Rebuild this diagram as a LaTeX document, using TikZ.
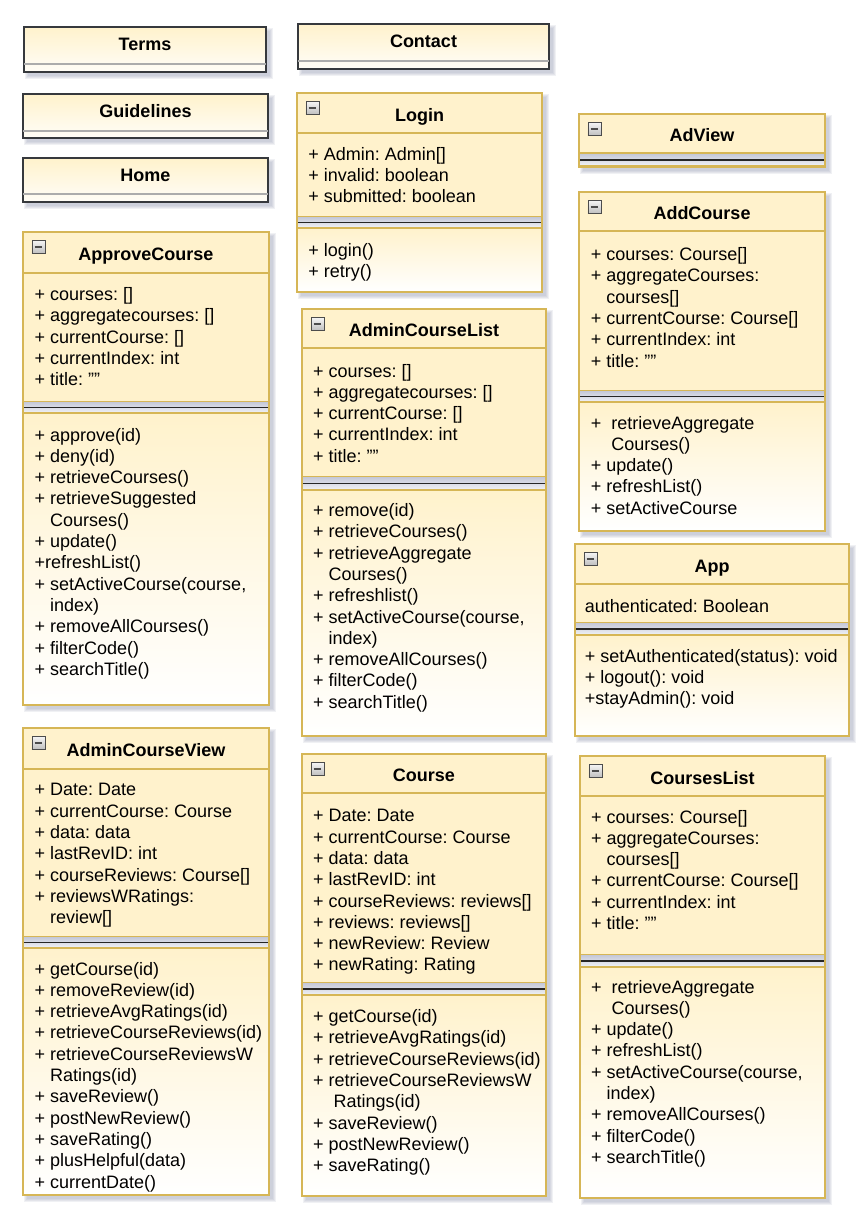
\documentclass[tikz,border=0pt]{standalone}
\usepackage{fontspec}
\setmainfont{Liberation Sans}

\definecolor{umlgold}{HTML}{D6B656}
\definecolor{umlfill}{HTML}{FFF2CC}
\definecolor{plaindark}{HTML}{36393D}
\definecolor{shadowcol}{HTML}{8A90AA}
\definecolor{gapdark}{HTML}{C4C8D8}
\definecolor{gaplight}{HTML}{F2F3F6}

% indent of wrapped member lines
\newcommand{\wrapind}{\hphantom{+\ }}
\newcommand{\wrapindd}{\hphantom{+\ \ }}

% soft shadow: left, top, right, bottom
\newcommand{\boxshadow}[4]{%
	\foreach \b in {0,1,2,3}
		\fill[shadowcol, opacity=0.13] ({#1+4-\b},{#2+4-\b}) rectangle ({#3+4+\b},{#4+4+\b});}

% name, title, left, right, top, header end, fields end, methods start, bottom
\newcommand{\umlclass}[9]{%
	\boxshadow{#3}{#5}{#4}{#9}
	\filldraw[compart] (#3,#5) rectangle (#4,#6);
	\filldraw[compart] (#3,#6) rectangle (#4,#7);
	\fill[gapfill] (#3,#7) rectangle (#4,#8);
	\filldraw[compart, methshade] (#3,#8) rectangle (#4,#9);
	\draw[sepline] (#3,{(#7+#8)/2}) -- (#4,{(#7+#8)/2});
	\draw[outerline] (#3,#5) rectangle (#4,#9);
	\node[collapsebox] (#1-toggle) at ({#3+8.5},{#5+8}) {};
	\node[classtitle] (#1-title) at ({(#3+#4)/2},{(#5+#6)/2+8.3}) {#2};}

% name, title, left, right, top, line, bottom
\newcommand{\plainclass}[7]{%
	\boxshadow{#3}{#5}{#4}{#7}
	\draw[plainbox] (#3,#5) rectangle (#4,#7);
	\draw[plainline] (#3,#6) -- (#4,#6);
	\node[classtitle] (#1) at ({(#3+#4)/2},{(#5+#6)/2+5}) {#2};}

\begin{document}
\begin{tikzpicture}[
		x=0.5pt, y=-0.5pt,
		compart/.style={draw=umlgold, line width=1pt, fill=umlfill},
		methshade/.style={top color=umlfill, bottom color=white},
		gapfill/.style={top color=gapdark, bottom color=gaplight},
		sepline/.style={draw=black!85, line width=0.8pt},
		outerline/.style={draw=umlgold, line width=1.4pt},
		plainbox/.style={draw=plaindark, line width=1pt, top color=umlfill, bottom color=umlfill!15},
		plainline/.style={draw=gray!65, line width=0.6pt},
		classtitle/.style={font=\bfseries\fontsize{9pt}{10.65pt}\selectfont, inner sep=0pt, anchor=base},
		memberlist/.style={font=\fontsize{9pt}{10.65pt}\selectfont\frenchspacing, inner sep=0pt, anchor=north west,
			yshift=-0.8pt, align=left, execute at begin node=\strut},
		collapsebox/.style={draw=gray!60!black, line width=0.4pt, top color=gray!8, bottom color=gray!50,
			minimum size=6.5pt, inner sep=0pt, anchor=north west,
			path picture={\draw[line width=0.7pt] ([xshift=1.3pt]path picture bounding box.west) -- ([xshift=-1.3pt]path picture bounding box.east);}}
		]
	\useasboundingbox (0,0) rectangle (865,1220);

	% plain boxes
	\plainclass{terms}{Terms}{24}{266}{27}{64}{72}
	\plainclass{guidelines}{Guidelines}{23}{268}{94}{131}{138}
	\plainclass{home}{Home}{23}{268}{158}{194}{202}
	\plainclass{contact}{Contact}{298}{549}{24}{61}{69}

	% Login
	\umlclass{login}{Login}{297}{542}{93}{133}{217}{228}{292}
	\node[memberlist] (login-fields) at (308,145) {+ Admin: Admin[]\\+ invalid: boolean\\+ submitted: boolean};
	\node[memberlist] (login-methods) at (308,241) {+ login()\\+ retry()};

	% AdView
	\umlclass{adview}{AdView}{579}{825}{114}{153}{154}{166}{167}

	% AddCourse
	\umlclass{addcourse}{AddCourse}{579}{825}{192}{231}{391}{402}{531}
	\node[memberlist] (addcourse-fields) at (590.5,245.5) {+ courses: Course[]\\+ aggregateCourses:\\\wrapind courses[]\\+ currentCourse: Course[]\\+ currentIndex: int\\+ title: ""};
	\node[memberlist] (addcourse-methods) at (590.5,414) {+\ \ retrieveAggregate\\\wrapindd Courses()\\+ update()\\+ refreshList()\\+ setActiveCourse};

	% App
	\umlclass{app}{App}{575}{849}{544}{584}{623}{635}{736}
	\node[memberlist] (app-fields) at (584.5,595.5) {authenticated: Boolean};
	\node[memberlist] (app-methods) at (584.5,647) {+ setAuthenticated(status): void\\+ logout(): void\\+stayAdmin(): void};

	% ApproveCourse
	\umlclass{approve}{ApproveCourse}{23}{269}{232}{273}{402}{413}{705}
	\node[memberlist] (approve-fields) at (34.3,285.5) {+ courses: []\\+ aggregatecourses: []\\+ currentCourse: []\\+ currentIndex: int\\+ title: ""};
	\node[memberlist] (approve-methods) at (34.3,426) {+ approve(id)\\+ deny(id)\\+ retrieveCourses()\\+ retrieveSuggested\\\wrapind Courses()\\+ update()\\+refreshList()\\+ setActiveCourse(course,\\\wrapind index)\\+ removeAllCourses()\\+ filterCode()\\+ searchTitle()};

	% AdminCourseList
	\umlclass{adminlist}{AdminCourseList}{302}{546}{309}{348}{477}{490}{736}
	\node[memberlist] (adminlist-fields) at (312.7,362) {+ courses: []\\+ aggregatecourses: []\\+ currentCourse: []\\+ currentIndex: int\\+ title: ""};
	\node[memberlist] (adminlist-methods) at (312.7,501.5) {+ remove(id)\\+ retrieveCourses()\\+ retrieveAggregate\\\wrapind Courses()\\+ refreshlist()\\+ setActiveCourse(course,\\\wrapind index)\\+ removeAllCourses()\\+ filterCode()\\+ searchTitle()};

	% AdminCourseView
	\umlclass{adminview}{AdminCourseView}{23}{269}{728}{769}{937}{948}{1195}
	\node[memberlist] (adminview-fields) at (34.3,781.5) {+ Date: Date\\+ currentCourse: Course\\+ data: data\\+ lastRevID: int\\+ courseReviews: Course[]\\+ reviewsWRatings:\\\wrapind review[]};
	\node[memberlist] (adminview-methods) at (34.3,960) {+ getCourse(id)\\+ removeReview(id)\\+ retrieveAvgRatings(id)\\+ retrieveCourseReviews(id)\\+ retrieveCourseReviewsW\\\wrapind Ratings(id)\\+ saveReview()\\+ postNewReview()\\+ saveRating()\\+ plusHelpful(data)\\+ currentDate()};

	% Course
	\umlclass{course}{Course}{302}{546}{754}{793}{983}{995}{1196}
	\node[memberlist] (course-fields) at (312.7,807.5) {+ Date: Date\\+ currentCourse: Course\\+ data: data\\+ lastRevID: int\\+ courseReviews: reviews[]\\+ reviews: reviews[]\\+ newReview: Review\\+ newRating: Rating};
	\node[memberlist] (course-methods) at (312.7,1007.5) {+ getCourse(id)\\+ retrieveAvgRatings(id)\\+ retrieveCourseReviews(id)\\+ retrieveCourseReviewsW\\\wrapindd Ratings(id)\\+ saveReview()\\+ postNewReview()\\+ saveRating()};

	% CoursesList
	\umlclass{courseslist}{CoursesList}{580}{825}{756}{796}{955}{967}{1198}
	\node[memberlist] (courseslist-fields) at (590.7,808) {+ courses: Course[]\\+ aggregateCourses:\\\wrapind courses[]\\+ currentCourse: Course[]\\+ currentIndex: int\\+ title: ""};
	\node[memberlist] (courseslist-methods) at (590.7,978) {+\ \ retrieveAggregate\\\wrapindd Courses()\\+ update()\\+ refreshList()\\+ setActiveCourse(course,\\\wrapind index)\\+ removeAllCourses()\\+ filterCode()\\+ searchTitle()};
\end{tikzpicture}
\end{document}
